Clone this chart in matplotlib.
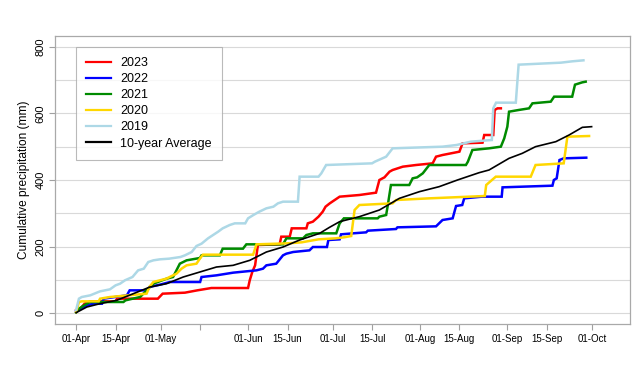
import matplotlib
matplotlib.use("Agg")
import matplotlib.pyplot as plt
import pandas as pd

plt.rcParams["font.family"] = ["Liberation Sans", "DejaVu Sans"]

# day 0 = 01-Apr, cumulative precipitation (mm)
days_2023 = [0, 1.5, 3, 5, 14, 14.5, 29, 30.7, 38.6, 43, 48, 61, 61.6, 62.5, 63.5, 64.5, 72.2, 72.8,
             75.8, 76.5, 81.7, 82.2, 84, 86, 87.5, 88.5, 90, 93.5, 100.5, 106.4, 107.6, 109.4, 111.2,
             112.3, 115.9, 120.6, 126.5, 127.7, 130, 136, 137.1, 144.2, 144.8, 148, 148.5, 149.5, 150.7]
precip_2023 = [9, 14, 29, 36, 36, 44, 44, 59, 62, 69, 76, 76, 99, 124, 144, 205, 207, 230,
               230, 255, 255, 270, 275, 290, 305, 320, 330, 350, 355, 362, 400, 408, 425,
               430, 440, 445, 450, 470, 475, 485, 510, 512, 535, 535, 610, 615, 615]

days_2022 = [0, 2, 4, 6, 9.2, 9.7, 18, 19, 25, 26, 29.7, 33.3, 44, 44.5, 49.8, 55.7, 60.4, 64, 66.3,
             67.5, 71, 73.4, 74.6, 77, 82.8, 84, 89, 89.5, 93.5, 94, 98.2, 102.9, 103.5, 113.5, 114,
             127.7, 130, 133.6, 134.8, 137, 137.7, 144, 151, 151.3, 169, 169.5, 170.5, 171.5, 173, 181]
precip_2022 = [6, 15, 24, 29, 29, 44, 54, 69, 69, 79, 86, 94, 94, 109, 114, 122, 126, 129, 134,
               144, 149, 174, 179, 184, 189, 199, 199, 220, 222, 237, 240, 243, 248, 253, 258,
               261, 280, 285, 322, 325, 345, 350, 350, 378, 383, 400, 405, 460, 465, 467]

days_2021 = [0, 1, 3, 5, 16.8, 17.5, 22.7, 25, 27.4, 32.1, 34.4, 35.6, 36.8, 39.2, 43.9, 44.5, 51, 52,
             59.2, 60.4, 73.4, 74.6, 80.5, 81.7, 84, 92.3, 93.5, 95, 107, 107.6, 110, 110.5, 111.7,
             118.2, 119.4, 121, 123, 125.3, 138.3, 139, 140.6, 146.5, 150.7, 151.9, 153, 153.6, 157,
             160.7, 161.9, 168.4, 169.6, 176, 177, 179.6, 180.8]
precip_2021 = [3, 14, 25, 34, 34, 39, 49, 69, 89, 104, 109, 129, 149, 159, 166, 174, 174, 194,
               194, 207, 207, 225, 225, 235, 240, 240, 270, 285, 285, 290, 295, 320, 385,
               385, 405, 408, 420, 445, 445, 455, 490, 495, 500, 525, 560, 605, 610,
               615, 630, 635, 650, 650, 686, 693, 695]

days_2020 = [0, 1, 2, 8, 8.5, 12, 25, 26, 27.4, 29.7, 32, 35.6, 37.4, 39.2, 42.7, 43.9, 45, 62.8, 64,
             75, 80, 86, 92, 95, 97.6, 98.8, 100.5, 112.3, 113.5, 125.3, 139.5, 145, 145.5, 148.9,
             161.3, 163, 173, 174.3, 182]
precip_2020 = [4, 34, 36, 36, 44, 49, 59, 79, 94, 99, 104, 119, 134, 144, 149, 164, 176, 176, 207,
               210, 213, 222, 225, 228, 232, 310, 325, 330, 340, 345, 350, 352, 385, 410,
               410, 445, 450, 530, 532]

days_2019 = [0, 1, 2, 5, 8.5, 12, 14, 15.6, 17.3, 20, 22, 24, 25.6, 27.4, 29.7, 33, 37, 38.6, 41,
             42.7, 44.5, 46.8, 48.6, 50.4, 52, 54.5, 56.3, 60, 61, 62.9, 65, 67.5, 70, 71.6, 73.4,
             78.7, 79.3, 86, 87, 88.7, 105, 106, 110, 112.3, 130, 135, 140, 147.5, 148, 149, 156,
             157, 172, 176, 180]
precip_2019 = [10, 44, 49, 54, 66, 72, 84, 89, 99, 109, 129, 134, 154, 159, 162, 164, 169, 174, 184,
               202, 209, 225, 235, 245, 255, 265, 270, 270, 285, 295, 305, 315, 320, 330, 335,
               335, 410, 410, 420, 445, 450, 455, 470, 495, 500, 505, 515, 520, 615, 632, 632,
               746, 752, 756, 759]

days_avg = [0, 3.8, 8.5, 14.4, 20.3, 26.2, 32.1, 38, 43.9, 49.8, 55.7, 61.6, 67.5, 73.4, 79.3, 86.4,
            89.9, 93.5, 100.5, 107.6, 114.7, 121.8, 128.8, 135.3, 143, 146.5, 153.6, 158.3, 163,
            170.2, 174.9, 179.6, 182.9]
precip_avg = [2, 19, 29, 39, 59, 79, 89, 109, 124, 139, 144, 159, 184, 199, 220, 240,
              258, 275, 290, 310, 345, 365, 380, 400, 422, 430, 465, 480, 500,
              515, 535, 558, 560]

labels = ["2023", "2022", "2021", "2020", "2019", "10-year Average"]
colors = ["#FF0000", "#0000FF", "#008B00", "#FFD700", "#ADD8E6", "#000000"]

tick_dates = ["2023-04-01", "2023-04-15", "2023-05-01", "2023-05-15", "2023-06-01", "2023-06-15",
              "2023-07-01", "2023-07-15", "2023-08-01", "2023-08-15", "2023-09-01", "2023-09-15",
              "2023-10-01"]
tick_labels = ["01-Apr", "15-Apr", "01-May", "", "01-Jun", "15-Jun", "01-Jul", "15-Jul",
               "01-Aug", "15-Aug", "01-Sep", "15-Sep", "01-Oct"]

start = pd.Timestamp(tick_dates[0])
tick_pos = [(pd.Timestamp(d) - start).days for d in tick_dates]

series = [
    (days_2023, precip_2023),
    (days_2022, precip_2022),
    (days_2021, precip_2021),
    (days_2020, precip_2020),
    (days_2019, precip_2019),
    (days_avg, precip_avg),
]

fig = plt.figure(figsize=(6.4, 3.7), dpi=100)
ax = fig.add_axes([0.0859, 0.1243, 0.8984, 0.7784])

for y in range(0, 801, 100):
    ax.axhline(y, color="#D9D9D9", lw=0.8, zorder=0)

for (d, v), lab, col in zip(series, labels, colors):
    lw = 1.2 if lab.startswith("10") else 1.8
    ax.plot(d, v, color=col, lw=lw, label=lab, solid_joinstyle="miter")

ax.set_xlim(-7.5, 196.5)
ax.set_ylim(-32, 832)

ax.set_xticks(tick_pos)
ax.set_xticklabels(tick_labels, fontsize=7)
ax.set_yticks([0, 200, 400, 600, 800])
ax.set_yticklabels(["0", "200", "400", "600", "800"], fontsize=8, rotation=90, va="center")
ax.tick_params(axis="both", color="#A0A0A0", length=4, width=0.8, pad=3)
ax.set_ylabel("Cumulative precipitation (mm)", fontsize=8.6, labelpad=4)

for s in ax.spines.values():
    s.set_color("#A9A9A9")
    s.set_linewidth(0.9)

leg = ax.legend(loc="upper left", bbox_to_anchor=(0.0365, 0.962), fontsize=9,
                frameon=True, fancybox=False, edgecolor="#A9A9A9", handlelength=2.0,
                handletextpad=0.75, labelspacing=0.33, borderpad=0.8, borderaxespad=0)
leg.get_frame().set_linewidth(0.8)
for line in leg.get_lines():
    line.set_linewidth(1.6)

fig.savefig("out.png", dpi=100)
